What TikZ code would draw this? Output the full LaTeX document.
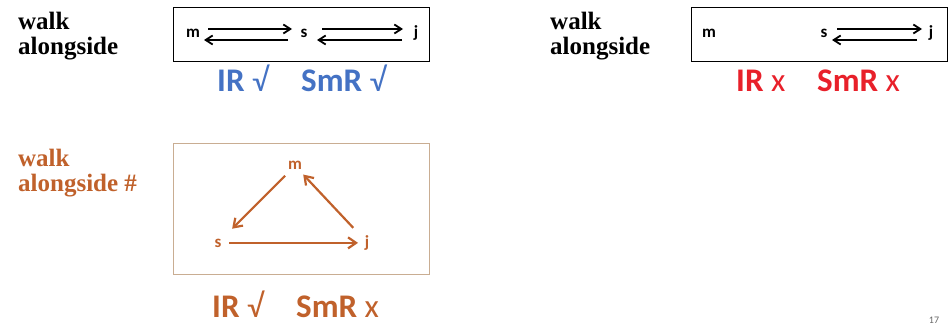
\documentclass[tikz,border=0pt]{standalone}
\usepackage{fontspec}
\setmainfont{Liberation Serif}
\setsansfont{Carlito}
\usetikzlibrary{arrows.meta}
\definecolor{okblue}{HTML}{4472C4}
\definecolor{nored}{HTML}{E8202A}
\definecolor{rust}{HTML}{C0612B}
\definecolor{boxtan}{HTML}{C9AD92}
\begin{document}
\begin{tikzpicture}[
                x=1pt, y=-1pt,
                title/.style={font=\rmfamily\bfseries\fontsize{25}{25}\selectfont,align=left,anchor=north west,inner sep=0pt},
                letter/.style={font=\sffamily\bfseries\fontsize{17}{17}\selectfont,inner sep=0pt,anchor=base},
                verdict/.style={font=\sffamily\bfseries\fontsize{33}{33}\selectfont,inner sep=0pt,anchor=base west},
                rel/.style={-{Straight Barb[length=7pt,width=9pt]},line width=1.8pt},
                cyc/.style={rel,draw=rust,line width=2.2pt,-{Straight Barb[length=8pt,width=11pt]}},
                frame/.style={draw,line width=0.7pt}
            ]
            \useasboundingbox (0,0) rectangle (948,326);

            % walk alongside, both ways
            \node[title] (t1) at (18,12) {walk\\alongside};
            \draw[frame] (173,7) rectangle (429,61);
            \node[letter] (m1) at (193,38) {m};
            \node[letter] (s1) at (304,38) {s};
            \node[letter] (j1) at (416,38) {j};
            \draw[rel] ([shift={(15pt,9pt)}]m1.base) -- ([shift={(-12pt,9pt)}]s1.base);
            \draw[rel] ([shift={(-16pt,-2pt)}]s1.base) -- ([shift={(11pt,-2pt)}]m1.base);
            \draw[rel] ([shift={(18pt,9pt)}]s1.base) -- ([shift={(-13pt,9pt)}]j1.base);
            \draw[rel] ([shift={(-14pt,-2pt)}]j1.base) -- ([shift={(13pt,-2pt)}]s1.base);
            \node[verdict,text=okblue] (ir1) at (217,92) {IR {\mdseries\char"221A}};
            \node[verdict,text=okblue] (smr1) at (301,92) {SmR {\mdseries\char"221A}};

            % walk alongside, only s and j
            \node[title] (t2) at (550,12) {walk\\alongside};
            \draw[frame] (691,7) rectangle (947,61);
            \node[letter] (m2) at (709,38) {m};
            \node[letter] (s2) at (824,38) {s};
            \node[letter] (j2) at (931,38) {j};
            \draw[rel] ([shift={(13pt,9pt)}]s2.base) -- ([shift={(-9pt,9pt)}]j2.base);
            \draw[rel] ([shift={(-14pt,-2pt)}]j2.base) -- ([shift={(8pt,-2pt)}]s2.base);
            \node[verdict,text=nored] (ir2) at (736,92) {IR {\mdseries x}};
            \node[verdict,text=nored] (smr2) at (817,92) {SmR {\mdseries x}};

            % walk alongside #, a cycle
            \node[title,text=rust] (t3) at (18,149) {walk\\alongside \#};
            \draw[frame,draw=boxtan] (173,143) rectangle (429,274);
            \node[letter,text=rust] (m3) at (295,170) {m};
            \node[letter,text=rust] (s3) at (218,247) {s};
            \node[letter,text=rust] (j3) at (367,247) {j};
            \draw[cyc,shorten <=14pt,shorten >=20pt] (m3.center) -- (s3.center);
            \draw[cyc,shorten <=20pt,shorten >=12pt] (j3.center) -- (m3.center);
            \draw[cyc,shorten <=11pt,shorten >=9pt] (s3.center) -- (s3.center -| j3.center);
            \node[verdict,text=rust] (ir3) at (212,317) {IR {\mdseries\char"221A}};
            \node[verdict,text=rust] (smr3) at (296,317) {SmR {\mdseries x}};

            % page number
            \node[font=\sffamily\fontsize{10}{10}\selectfont,text=black!60,anchor=north] (pg) at (934,314) {17};
        \end{tikzpicture}
\end{document}
